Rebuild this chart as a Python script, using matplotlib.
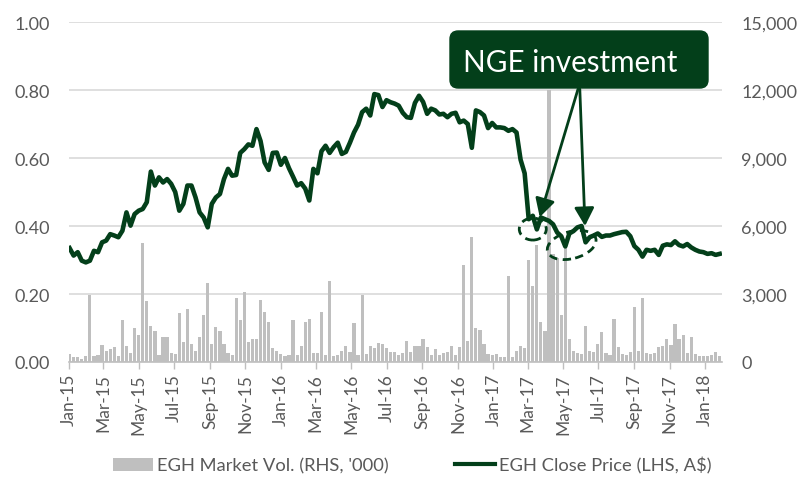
import matplotlib
matplotlib.use('Agg')
import matplotlib.pyplot as plt
import matplotlib.dates as mdates
import pandas as pd
from matplotlib.patches import Ellipse, FancyBboxPatch, Patch
from matplotlib.lines import Line2D
from matplotlib.transforms import ScaledTranslation

plt.rcParams['font.family'] = ['Lato', 'DejaVu Sans']

# Weekly EGH close price (A$)
price = [0.335, 0.313, 0.323, 0.298, 0.293, 0.298, 0.327, 0.323, 0.352, 0.357,
         0.376, 0.372, 0.367, 0.386, 0.440, 0.401, 0.435, 0.445, 0.450, 0.470,
         0.560, 0.519, 0.543, 0.528, 0.538, 0.524, 0.500, 0.445, 0.465, 0.519,
         0.519, 0.484, 0.440, 0.425, 0.396, 0.465, 0.484, 0.494, 0.538, 0.568,
         0.548, 0.550, 0.615, 0.626, 0.640, 0.636, 0.685, 0.650, 0.587, 0.565,
         0.615, 0.616, 0.580, 0.600, 0.570, 0.545, 0.519, 0.526, 0.510, 0.475,
         0.568, 0.555, 0.620, 0.636, 0.615, 0.632, 0.645, 0.612, 0.618, 0.645,
         0.675, 0.698, 0.735, 0.745, 0.725, 0.788, 0.785, 0.750, 0.770, 0.764,
         0.760, 0.754, 0.733, 0.720, 0.718, 0.762, 0.783, 0.765, 0.730, 0.745,
         0.740, 0.728, 0.730, 0.720, 0.730, 0.733, 0.705, 0.710, 0.700, 0.630,
         0.740, 0.735, 0.725, 0.688, 0.703, 0.690, 0.690, 0.688, 0.680, 0.685,
         0.675, 0.595, 0.555, 0.420, 0.430, 0.390, 0.425, 0.420, 0.415, 0.405,
         0.381, 0.370, 0.340, 0.378, 0.385, 0.396, 0.400, 0.352, 0.367, 0.372,
         0.378, 0.368, 0.372, 0.372, 0.376, 0.379, 0.382, 0.383, 0.370, 0.341,
         0.330, 0.310, 0.330, 0.327, 0.330, 0.315, 0.342, 0.346, 0.344, 0.355,
         0.344, 0.340, 0.347, 0.337, 0.330, 0.325, 0.323, 0.318, 0.320, 0.315,
         0.318]

# Weekly EGH market volume ('000)
volume = [350, 200, 200, 150, 250, 2970, 250, 300, 750, 500,
          570, 650, 250, 1850, 690, 400, 1500, 1190, 5250, 2700,
          1600, 1380, 300, 1117, 1117, 400, 350, 2150, 870, 2340,
          800, 500, 1090, 2090, 3470, 800, 1530, 1350, 800, 400,
          300, 2820, 1870, 3100, 900, 1015, 1015, 2750, 2190, 1780,
          600, 500, 350, 250, 300, 1850, 300, 720, 1780, 1900,
          400, 400, 2190, 300, 3560, 250, 300, 500, 720, 450,
          1700, 300, 2970, 350, 720, 600, 820, 800, 600, 450,
          450, 300, 400, 940, 450, 690, 700, 1015, 650, 300,
          570, 300, 400, 450, 690, 300, 650, 4290, 940, 5500,
          1500, 1430, 800, 350, 300, 350, 200, 200, 3810, 200,
          500, 690, 600, 4515, 3370, 5176, 1750, 1380, 12000, 4765,
          4575, 2070, 5130, 1000, 500, 400, 350, 1600, 500, 450,
          800, 1310, 400, 300, 1900, 650, 350, 300, 450, 2440,
          500, 2810, 400, 350, 400, 650, 700, 1015, 750, 1680,
          1015, 1190, 400, 1117, 350, 250, 250, 250, 300, 456,
          250]

dates = pd.date_range('2015-01-02', periods=len(price), freq='7D')

GREEN = '#033f1a'
GREY_BAR = '#bfbfbf'
TXT = '#595959'

fig = plt.figure(figsize=(8.02, 4.81), dpi=100)
ax_v = fig.add_axes([69 / 802, 1 - 363 / 481, 653 / 802, 340 / 481])
ax_p = ax_v.twinx()

ax_v.bar(dates, volume, width=5.5, color=GREY_BAR, linewidth=0, zorder=2)
ax_p.plot(dates, price, color=GREEN, lw=3.3, solid_joinstyle='round', zorder=3)

ax_v.set_ylim(0, 15000)
ax_p.set_ylim(0, 1.0)
ax_v.set_xlim(pd.Timestamp('2015-01-01'), pd.Timestamp('2018-01-30'))

# axis sides: price left, volume right
ax_v.yaxis.set_ticks_position('right')
ax_p.yaxis.set_ticks_position('left')
ax_v.set_yticks(range(0, 15001, 3000))
ax_v.yaxis.set_major_formatter(matplotlib.ticker.FuncFormatter(lambda v, p: f'{int(v):,}'))
ax_p.set_yticks([0, 0.2, 0.4, 0.6, 0.8, 1.0])
ax_p.yaxis.set_major_formatter(matplotlib.ticker.FormatStrFormatter('%.2f'))

ax_v.grid(axis='y', color='#d9d9d9', lw=1.2, zorder=0)
ax_v.set_axisbelow(True)

for a in (ax_v, ax_p):
    for s in a.spines.values():
        s.set_visible(False)
ax_v.spines['bottom'].set_visible(True)
ax_v.spines['bottom'].set_color('#bfbfbf')
ax_v.spines['bottom'].set_linewidth(1.2)

ax_v.xaxis.set_major_locator(mdates.MonthLocator(bymonth=[1, 3, 5, 7, 9, 11]))
ax_v.xaxis.set_major_formatter(mdates.DateFormatter('%b-%y'))
ax_v.tick_params(axis='x', direction='out', length=5, width=1, color='#bfbfbf',
                 labelcolor=TXT, labelsize=12.5, labelrotation=90, pad=3)
ax_v.tick_params(axis='y', length=0, labelcolor=TXT, labelsize=13, pad=14)
ax_p.tick_params(axis='y', length=0, labelcolor=TXT, labelsize=13, pad=14)

# Annotation box
box = FancyBboxPatch((381 / 653, 274 / 340), 258 / 653, 57 / 340,
                     boxstyle='round,pad=0,rounding_size=0.0125',
                     mutation_aspect=653 / 340, transform=ax_p.transAxes,
                     fc=GREEN, ec=GREEN, zorder=6, clip_on=False)
ax_p.add_patch(box)
ax_p.text(394 / 653, 291 / 340, 'NGE investment', transform=ax_p.transAxes,
          ha='left', va='baseline', color='white', fontsize=21.3, zorder=7)

arrow_kw = dict(arrowstyle='-|>,head_length=0.55,head_width=0.3', color=GREEN,
                lw=2, mutation_scale=20, shrinkA=0, shrinkB=0)
ax_p.annotate('', xy=(pd.Timestamp('2017-03-22'), 0.426),
              xytext=(pd.Timestamp('2017-05-27'), 0.803), arrowprops=arrow_kw, zorder=5)
ax_p.annotate('', xy=(pd.Timestamp('2017-06-08'), 0.400),
              xytext=(pd.Timestamp('2017-05-30'), 0.803), arrowprops=arrow_kw, zorder=5)

# dashed ellipses around the price events
for d, pval, w, h, ang in [('2017-03-10', 0.391, 0.27, 0.22, 0),
                           ('2017-05-16', 0.344, 0.50, 0.27, 15)]:
    tr = fig.dpi_scale_trans + ScaledTranslation(mdates.date2num(pd.Timestamp(d)), pval, ax_p.transData)
    e = Ellipse((0, 0), w, h, angle=ang, transform=tr, fill=False, ec=GREEN,
                lw=2, ls=(0, (3, 2)), zorder=5)
    ax_p.add_patch(e)

handles = [Patch(fc=GREY_BAR, ec='none'), Line2D([], [], color=GREEN, lw=3)]
labels = ["EGH Market Vol. (RHS, '000)", 'EGH Close Price (LHS, A$)']
leg = fig.legend(handles, labels, loc='center', bbox_to_anchor=(0.514, 0.031), ncol=2,
                 frameon=False, fontsize=13.2, handlelength=2.2, handletextpad=0.2,
                 columnspacing=3.6)
for t in leg.get_texts():
    t.set_color(TXT)

fig.savefig('out.png', dpi=100)
